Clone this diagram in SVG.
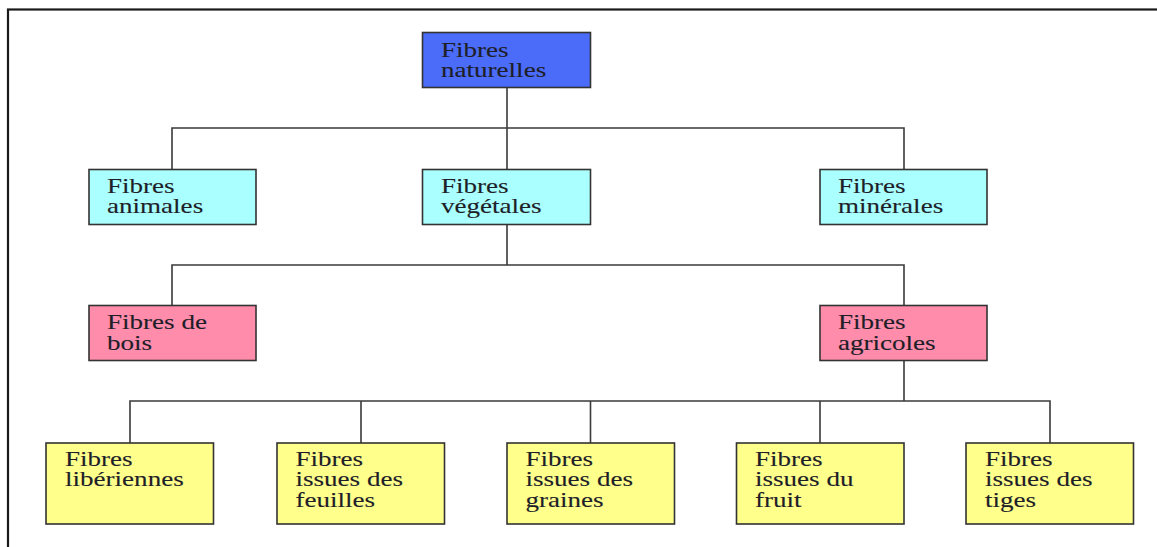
<svg xmlns="http://www.w3.org/2000/svg" width="1157" height="547" viewBox="0 0 1157 547">
<style>
.box{stroke:#333;stroke-width:1.6}
.root{fill:#4b6cf8}
.l2{fill:#aaffff}
.l3{fill:#ff8cab}
.l4{fill:#ffff8c}
.lbl{font-family:"Liberation Serif","Times New Roman",serif;font-size:20.5px;fill:#1e1e28;stroke:#1e1e28;stroke-width:0.12}
.conn{fill:none;stroke:#3a3a3a;stroke-width:1.6}
</style>
<rect x="8" y="9.5" width="1200" height="600" fill="none" stroke="#1a1a1a" stroke-width="2.2"/>
<g id="connectors" class="conn">
<path d="M507,87 V169 M172,169 V128 H904 V169"/>
<path d="M507,224 V265 M172,305 V265 H904 V305"/>
<path d="M904,360 V401 M130,443 V401 H1050 V443 M361,401 V443 M590.5,401 V443 M820,401 V443"/>
</g>
<g id="n-naturelles"><rect class="box root" x="422.5" y="32.5" width="168" height="55"/><text class="lbl" transform="translate(441,56.5) scale(1.32,1)"><tspan x="0" y="0">Fibres</tspan><tspan x="0" y="20.7">naturelles</tspan></text></g>
<g id="n-animales"><rect class="box l2" x="89" y="169.5" width="167" height="55"/><text class="lbl" transform="translate(107,192.5) scale(1.32,1)"><tspan x="0" y="0">Fibres</tspan><tspan x="0" y="20.7">animales</tspan></text></g>
<g id="n-vegetales"><rect class="box l2" x="422.5" y="169.5" width="168" height="55"/><text class="lbl" transform="translate(441,192.5) scale(1.32,1)"><tspan x="0" y="0">Fibres</tspan><tspan x="0" y="20.7">végétales</tspan></text></g>
<g id="n-minerales"><rect class="box l2" x="820" y="169.5" width="167" height="55"/><text class="lbl" transform="translate(838,192.5) scale(1.32,1)"><tspan x="0" y="0">Fibres</tspan><tspan x="0" y="20.7">minérales</tspan></text></g>
<g id="n-bois"><rect class="box l3" x="89" y="305.5" width="167" height="55"/><text class="lbl" transform="translate(107,329) scale(1.32,1)"><tspan x="0" y="0">Fibres de</tspan><tspan x="0" y="20.7">bois</tspan></text></g>
<g id="n-agricoles"><rect class="box l3" x="820" y="305.5" width="167" height="55"/><text class="lbl" transform="translate(838,329) scale(1.32,1)"><tspan x="0" y="0">Fibres</tspan><tspan x="0" y="20.7">agricoles</tspan></text></g>
<g id="n-liberiennes"><rect class="box l4" x="46" y="443" width="167.5" height="81"/><text class="lbl" transform="translate(65,466) scale(1.32,1)"><tspan x="0" y="0">Fibres</tspan><tspan x="0" y="20.5">libériennes</tspan></text></g>
<g id="n-feuilles"><rect class="box l4" x="277" y="443" width="167.5" height="81"/><text class="lbl" transform="translate(295.5,466) scale(1.32,1)"><tspan x="0" y="0">Fibres</tspan><tspan x="0" y="20.5">issues des</tspan><tspan x="0" y="41">feuilles</tspan></text></g>
<g id="n-graines"><rect class="box l4" x="507" y="443" width="167.5" height="81"/><text class="lbl" transform="translate(525.5,466) scale(1.32,1)"><tspan x="0" y="0">Fibres</tspan><tspan x="0" y="20.5">issues des</tspan><tspan x="0" y="41">graines</tspan></text></g>
<g id="n-fruit"><rect class="box l4" x="736.5" y="443" width="167.5" height="81"/><text class="lbl" transform="translate(755,466) scale(1.32,1)"><tspan x="0" y="0">Fibres</tspan><tspan x="0" y="20.5">issues du</tspan><tspan x="0" y="41">fruit</tspan></text></g>
<g id="n-tiges"><rect class="box l4" x="966" y="443" width="167.5" height="81"/><text class="lbl" transform="translate(985,466) scale(1.32,1)"><tspan x="0" y="0">Fibres</tspan><tspan x="0" y="20.5">issues des</tspan><tspan x="0" y="41">tiges</tspan></text></g>
</svg>
